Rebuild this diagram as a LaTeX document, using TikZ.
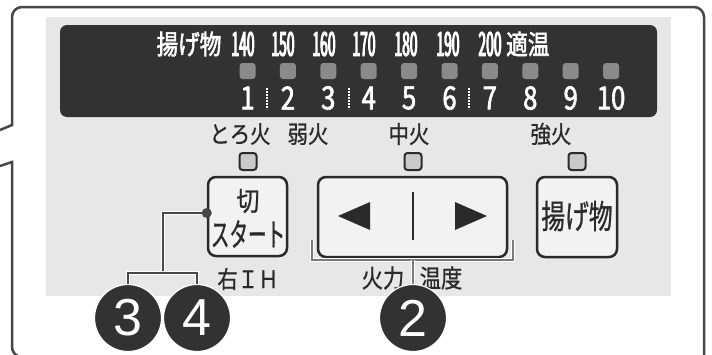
\documentclass[tikz,border=0pt]{standalone}
\usepackage{fontspec}
\setmainfont{Noto Sans CJK JP}
\newfontfamily\jpa[FakeStretch=0.42,FakeBold=3]{Noto Sans CJK JP}
\newfontfamily\jpb[FakeStretch=0.85,FakeBold=0.8]{Noto Sans CJK JP}
\newfontfamily\jpe[FakeStretch=0.8,FakeBold=2]{Noto Sans CJK JP}
\newfontfamily\jpc[FakeStretch=0.58,FakeBold=0.8]{Noto Sans CJK JP}
\newfontfamily\jpd[FakeStretch=0.72,FakeBold=0.8]{Noto Sans CJK JP}
\newfontfamily\numf{Liberation Sans}
\definecolor{framec}{HTML}{474747}
\definecolor{panelc}{HTML}{E6E7E9}
\definecolor{dispc}{HTML}{323232}
\definecolor{ledc}{HTML}{8A8A8A}
\definecolor{ledl}{HTML}{C9C9C9}
\definecolor{btnc}{HTML}{F1F2F4}
\definecolor{inkc}{HTML}{2A2A2A}
\definecolor{brc}{HTML}{7A7A7A}
\tikzset{
  frame/.style={draw=framec,line width=2.5pt},
  toptext/.style={inner sep=0pt,text=white,font=\jpa\fontsize{33}{33}\selectfont},
  topjp/.style={inner sep=0pt,text=white,font=\jpe\fontsize{27}{27}\selectfont},
  lvl/.style={inner sep=0pt,text=white,font=\jpe\fontsize{32}{32}\selectfont},
  led/.style={fill=ledc,rounded corners=3pt,minimum size=16pt,inner sep=0pt},
  ledb/.style={fill=ledl,draw=inkc,line width=2pt,rounded corners=3pt,minimum size=17pt,inner sep=0pt},
  lbl/.style={inner sep=0pt,text=inkc,font=\jpb\fontsize{24}{24}\selectfont},
  btn/.style={fill=btnc,draw=inkc,line width=2.5pt,rounded corners=8pt,inner sep=0pt},
  dots/.style={white,line width=1.6pt,dash pattern=on 1.6pt off 1.4pt},
  bracket/.style={draw=white,double=brc,double distance=1.6pt,line width=1pt},
  conn/.style={draw=white,double=framec,double distance=2.2pt,line width=1pt},
  num/.style={circle,fill=dispc,draw=white,line width=1.2pt,minimum size=67pt,inner sep=0pt,text=white,font=\numf\fontsize{52}{52}\selectfont},
}
\begin{document}
\begin{tikzpicture}[x=1pt,y=-1pt]
\useasboundingbox (0,0) rectangle (712,354);
% outer frame
\draw[frame] (0,130) -- (12,125) [rounded corners=10pt] -- (12,7) -- (704,7) -- (704,380);
\draw[frame] (0,166) -- (12,162) [rounded corners=10pt] -- (12,357) -- (700,357);
% panel
\fill[panelc] (46,17) rectangle (671,296);
\fill[dispc,rounded corners=7pt] (60,25) rectangle (657,117);
% top row
\node[topjp] (tage) at (189,44) {揚げ物};
\node[toptext] (t1) at (243,44) {140};
\node[toptext] (t2) at (283,44) {150};
\node[toptext] (t3) at (324,44) {160};
\node[toptext] (t4) at (364,44) {170};
\node[toptext] (t5) at (406,44) {180};
\node[toptext] (t6) at (448,44) {190};
\node[toptext] (t7) at (490,44) {200};
\node[topjp,anchor=west] (ttek) at (506,44) {適温};
% LEDs and levels
\foreach \i in {1,...,10}{
  \node[led] (l\i) at ({247.5+40.4*(\i-1)},71) {};
  \node[lvl] (n\i) at ({247.5+40.4*(\i-1)},98) {\i};
}
\draw[dots] (267,88) -- (267,109);
\draw[dots] (349,88) -- (349,109);
\draw[dots] (469,88) -- (469,109);
% heat labels
\node[lbl] (toro) at (240,134) {とろ火};
\node[lbl] (jaku) at (308,134) {弱火};
\node[lbl] (chu) at (409,134) {中火};
\node[lbl] (kyo) at (551,134) {強火};
\node[ledb] (lb1) at (248,161.5) {};
\node[ledb] (lb2) at (413,161.5) {};
\node[ledb] (lb3) at (577,161.5) {};
% buttons
\node[btn,minimum width=79pt,minimum height=79pt] (start) at (247.5,216.5) {};
\node[inner sep=0pt,text=inkc,font=\jpb\fontsize{27}{27}\selectfont] (kiri) at (248,201) {切};
\node[inner sep=0pt,text=inkc,font=\jpc\fontsize{32}{32}\selectfont] (sta) at (248,234) {スタート};
\node[btn,minimum width=189pt,minimum height=80pt] (arr) at (412.5,217) {};
\fill[inkc] (338,216) -- (370,202) -- (370,230) -- cycle;
\fill[inkc] (487,216) -- (455,202) -- (455,230) -- cycle;
\draw[inkc,line width=2.5pt] (413,192) -- (413,240);
\node[btn,minimum width=80pt,minimum height=80pt] (age) at (577,217) {};
\node[inner sep=0pt,text=inkc,font=\jpd\fontsize{33}{33}\selectfont] (aget) at (577,216) {揚げ物};
% bracket
\draw[bracket] (312,240) -- (312,260) -- (513,260) -- (513,240);
\draw[bracket] (413,260) -- (413,284);
\node[lbl,font=\jpb\fontsize{25}{25}\selectfont] (kar) at (383,278) {火力};
\node[lbl,font=\jpb\fontsize{25}{25}\selectfont] (ond) at (441,278) {温度};
\node[lbl] (migi) at (248,279) {右ＩＨ};
% numbered circles
\node[num] (c2) at (413,318) {2};
\node[num] (c3) at (128,318) {3};
\node[num] (c4) at (197,318) {4};
% connector
\coordinate (dot) at ([yshift=3.5pt]start.west);
\coordinate (br) at (163,273);
\draw[conn] (dot) -| (br);
\draw[conn] (c3.north) |- (br) -| (c4.north);
\fill[framec] (dot) circle (5pt);
\end{tikzpicture}
\end{document}
